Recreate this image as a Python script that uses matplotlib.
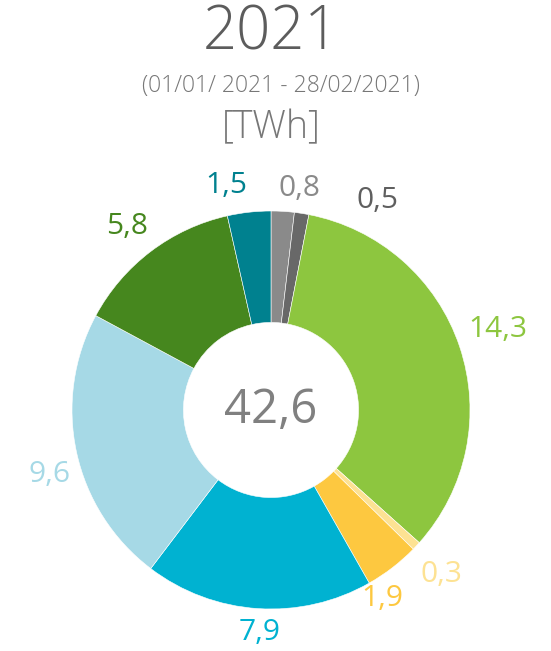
import numpy as np
import matplotlib
matplotlib.use('Agg')
import matplotlib.pyplot as plt

# Energy shares, clockwise from 12 o'clock
values = [0.8, 0.5, 14.3, 0.3, 1.9, 7.9, 9.6, 5.8, 1.5]
labels = ['0,8', '0,5', '14,3', '0,3', '1,9', '7,9', '9,6', '5,8', '1,5']
colors = ['#8a8a8a', '#686868', '#8dc63f', '#fde293', '#fdc840',
          '#00b2d1', '#a6d9e6', '#46871e', '#00818f']
label_colors = ['#8a8a8a', '#5f5f5f', '#8dc63f', '#fde293', '#fdc840',
                '#00b2d1', '#a6d9e6', '#46871e', '#00818f']
total_label = '42,6'

W, H = 551, 651
CX, CY, R = 271, H - 410, 199
HOLE = 0.44

plt.rcParams['font.family'] = ['Open Sans', 'DejaVu Sans']

fig = plt.figure(figsize=(W / 100, H / 100), dpi=100)
ax = fig.add_axes([0, 0, 1, 1])

wedges, _ = ax.pie(values, colors=colors, startangle=90, counterclock=False,
                   center=(CX, CY), radius=R, frame=True,
                   wedgeprops=dict(width=R * (1 - HOLE), edgecolor='white', linewidth=0.4))
ax.set_xlim(0, W)
ax.set_ylim(0, H)
ax.set_aspect('equal')
ax.axis('off')

# label radius factor and angle nudge (deg) per slice to avoid overlap
lab_r = [1.12, 1.18, 1.21, 1.19, 1.10, 1.12, 1.16, 1.17, 1.15]
lab_da = [-4, -18, 1, -1, -7, 1, 4, 1, 5]
for w, lab, c, rf, da in zip(wedges, labels, label_colors, lab_r, lab_da):
    ang = np.deg2rad((w.theta1 + w.theta2) / 2 + da)
    x = CX + rf * R * np.cos(ang)
    y = CY + rf * R * np.sin(ang)
    ax.text(x, y, lab, color=c, fontsize=21.5, ha='center', va='center')

ax.text(CX, CY, total_label, color='#808080', fontsize=34, ha='center', va='center')

ax.text(271, H - 34, '2021', color='#5c5c5c', fontsize=43, fontweight='light',
        ha='center', va='center')
ax.text(281, H - 86, '(01/01/ 2021 - 28/02/2021)', color='#777777', fontsize=16.5,
        fontweight='light', ha='center', va='center')
ax.text(271, H - 128, '[TWh]', color='#777777', fontsize=27, fontweight='light',
        ha='center', va='center')

fig.savefig('out.png', dpi=100, facecolor='white')
